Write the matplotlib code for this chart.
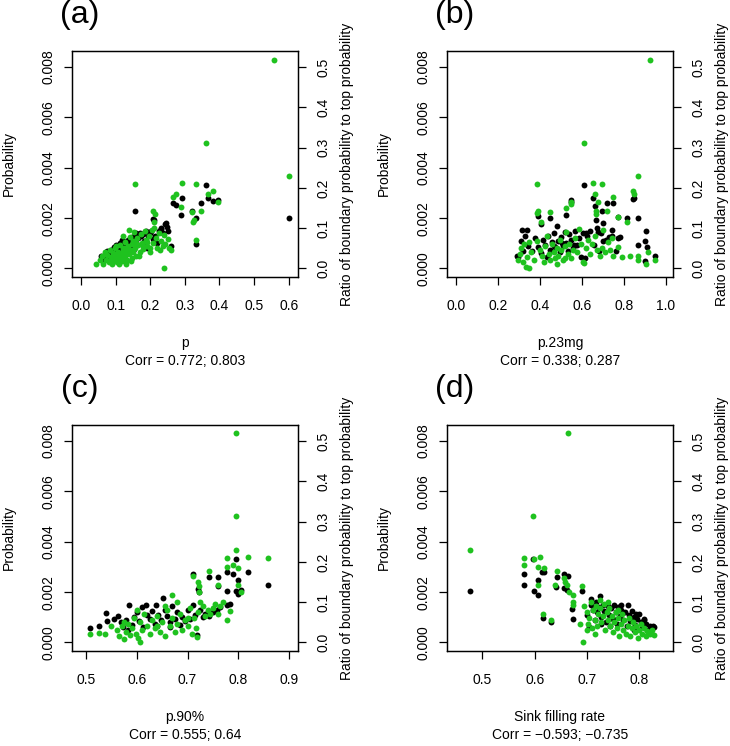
import matplotlib
matplotlib.use('Agg')
import matplotlib.pyplot as plt
import numpy as np

plt.rcParams['font.family'] = ['Liberation Sans', 'DejaVu Sans']
plt.rcParams['font.size'] = 10

# ---- data: black = probability (left axis), green = ratio (right axis) ----
# panel (a): p
a_black_x = [0.600, 0.360, 0.291, 0.266, 0.274, 0.347, 0.368, 0.380, 0.397, 0.320, 0.332, 0.332, 0.288, 0.156,
             0.209, 0.212, 0.245, 0.232, 0.260, 0.190,
             0.058, 0.064, 0.070, 0.075, 0.080, 0.084, 0.088, 0.092, 0.096, 0.100, 0.102, 0.106, 0.110, 0.112,
             0.116, 0.120, 0.122, 0.126, 0.130, 0.133, 0.136, 0.140, 0.143, 0.146, 0.150, 0.152, 0.156, 0.160,
             0.165, 0.170, 0.174, 0.178, 0.183, 0.188, 0.193, 0.198, 0.203, 0.208, 0.214, 0.220, 0.226, 0.230,
             0.236, 0.242, 0.248, 0.252, 0.118, 0.138, 0.160, 0.180]
a_black_y = [0.00201, 0.00333, 0.00278, 0.00260, 0.00251, 0.00260, 0.00278, 0.00267, 0.00270, 0.00229, 0.00202,
             0.00099, 0.00212, 0.00227, 0.00197, 0.00192, 0.00181, 0.00156, 0.00089, 0.00083,
             0.00050, 0.00038, 0.00055, 0.00068, 0.00045, 0.00062, 0.00075, 0.00052, 0.00085, 0.00092, 0.00070,
             0.00058, 0.00080, 0.00100, 0.00072, 0.00090, 0.00108, 0.00065, 0.00098, 0.00082, 0.00115, 0.00105,
             0.00088, 0.00125, 0.00118, 0.00078, 0.00135, 0.00100, 0.00120, 0.00142, 0.00128, 0.00138, 0.00110,
             0.00148, 0.00130, 0.00140, 0.00150, 0.00118, 0.00128, 0.00102, 0.00148, 0.00160, 0.00140, 0.00175,
             0.00165, 0.00150, 0.00112, 0.00095, 0.00140, 0.00092]
a_green_x = [0.558, 0.360, 0.600, 0.156, 0.291, 0.332, 0.266, 0.275, 0.366, 0.380, 0.397, 0.347, 0.322, 0.325,
             0.332, 0.289, 0.209, 0.215, 0.211, 0.239, 0.043, 0.326,
             0.055, 0.060, 0.065, 0.068, 0.072, 0.076, 0.080, 0.083, 0.086, 0.090, 0.092, 0.095, 0.098, 0.100,
             0.103, 0.106, 0.109, 0.112, 0.115, 0.118, 0.121, 0.124, 0.127, 0.130, 0.133, 0.136, 0.139, 0.142,
             0.145, 0.148, 0.151, 0.154, 0.157, 0.160, 0.163, 0.166, 0.170, 0.173, 0.176, 0.180, 0.184, 0.188,
             0.192, 0.196, 0.200, 0.204, 0.208, 0.212, 0.216, 0.220, 0.224, 0.228, 0.232, 0.236, 0.240, 0.244,
             0.250, 0.255, 0.260, 0.120, 0.140, 0.100, 0.130,
             0.085, 0.094, 0.104, 0.108, 0.114, 0.122, 0.128, 0.135, 0.144, 0.150, 0.158, 0.168, 0.178, 0.190,
             0.198, 0.110, 0.125, 0.146]
a_green_r = [0.518, 0.312, 0.230, 0.210, 0.212, 0.210, 0.178, 0.186, 0.186, 0.193, 0.164, 0.143, 0.140, 0.116,
             0.070, 0.153, 0.142, 0.136, 0.116, 0.002, 0.012, 0.120,
             0.020, 0.030, 0.012, 0.040, 0.022, 0.033, 0.015, 0.045, 0.028, 0.010, 0.038, 0.022, 0.050, 0.030,
             0.015, 0.042, 0.025, 0.058, 0.035, 0.018, 0.048, 0.028, 0.065, 0.040, 0.022, 0.055, 0.035, 0.078,
             0.045, 0.025, 0.068, 0.090, 0.050, 0.032, 0.075, 0.058, 0.040, 0.085, 0.062, 0.048, 0.092, 0.070,
             0.055, 0.080, 0.040, 0.095, 0.062, 0.100, 0.075, 0.050, 0.088, 0.045, 0.068, 0.055, 0.082, 0.060,
             0.072, 0.050, 0.046, 0.080, 0.095, 0.055, 0.010,
             0.020, 0.032, 0.025, 0.036, 0.028, 0.040, 0.030, 0.045, 0.018, 0.040, 0.062, 0.030, 0.055, 0.065,
             0.050, 0.012, 0.052, 0.060]

# panel (b): p.23mg
b_black_x = [0.610, 0.651, 0.662, 0.841, 0.846, 0.717, 0.748, 0.549, 0.546, 0.696, 0.390, 0.446, 0.525, 0.669,
             0.702, 0.772, 0.815, 0.868, 0.905, 0.868, 0.900, 0.910, 0.946, 0.900, 0.406, 0.314, 0.339, 0.298,
             0.290,
             0.310, 0.320, 0.330, 0.345, 0.360, 0.375, 0.390, 0.405, 0.415, 0.425, 0.432, 0.440, 0.450, 0.458,
             0.465, 0.472, 0.480, 0.488, 0.495, 0.502, 0.510, 0.518, 0.525, 0.532, 0.540, 0.548, 0.556, 0.565,
             0.575, 0.585, 0.595, 0.605, 0.615, 0.625, 0.640, 0.655, 0.670, 0.680, 0.690, 0.700, 0.712, 0.730,
             0.745, 0.760, 0.780, 0.465, 0.505, 0.560, 0.745, 0.772, 0.677, 0.618]
b_black_y = [0.00333, 0.00278, 0.00250, 0.00274, 0.00278, 0.00260, 0.00260, 0.00270, 0.00263, 0.00229, 0.00209,
             0.00202, 0.00212, 0.00192, 0.00181, 0.00205, 0.00202, 0.00202, 0.00149, 0.00093, 0.00110, 0.00086,
             0.00049, 0.00030, 0.00176, 0.00152, 0.00152, 0.00046, 0.00048,
             0.00110, 0.00070, 0.00130, 0.00090, 0.00068, 0.00120, 0.00085, 0.00060, 0.00115, 0.00095, 0.00045,
             0.00130, 0.00075, 0.00105, 0.00140, 0.00085, 0.00170, 0.00110, 0.00065, 0.00125, 0.00090, 0.00145,
             0.00100, 0.00070, 0.00135, 0.00115, 0.00080, 0.00150, 0.00095, 0.00120, 0.00045, 0.00140, 0.00040,
             0.00130, 0.00150, 0.00095, 0.00160, 0.00070, 0.00140, 0.00110, 0.00115, 0.00125, 0.00130, 0.00070,
             0.00125, 0.00090, 0.00100, 0.00095, 0.00152, 0.00119, 0.00145, 0.00139]
b_green_x = [0.925, 0.610, 0.868, 0.387, 0.651, 0.696, 0.841, 0.846, 0.664, 0.747, 0.390, 0.387, 0.406, 0.447,
             0.525, 0.546, 0.549, 0.717, 0.772, 0.815, 0.677, 0.667, 0.669,
             0.295, 0.305, 0.312, 0.318, 0.325, 0.334, 0.340, 0.348, 0.350, 0.358, 0.370, 0.385, 0.398, 0.410,
             0.418, 0.425, 0.435, 0.442, 0.450, 0.458, 0.465, 0.472, 0.480, 0.488, 0.495, 0.502, 0.510, 0.518,
             0.525, 0.532, 0.540, 0.548, 0.555, 0.565, 0.575, 0.585, 0.595, 0.605, 0.612, 0.620, 0.630, 0.640,
             0.650, 0.660, 0.672, 0.685, 0.693, 0.700, 0.710, 0.722, 0.735, 0.745, 0.748, 0.772, 0.790, 0.828,
             0.868, 0.868, 0.905, 0.946, 0.915, 0.480, 0.520]
b_green_r = [0.518, 0.312, 0.230, 0.210, 0.212, 0.210, 0.193, 0.186, 0.186, 0.178, 0.143, 0.138, 0.116, 0.140,
             0.149, 0.166, 0.160, 0.143, 0.127, 0.116, 0.164, 0.142, 0.136,
             0.020, 0.035, 0.050, 0.015, 0.060, 0.004, 0.028, 0.066, 0.000, 0.040, 0.022, 0.068, 0.045, 0.030,
             0.015, 0.055, 0.080, 0.035, 0.020, 0.060, 0.040, 0.025, 0.050, 0.030, 0.070, 0.045, 0.020, 0.055,
             0.090, 0.035, 0.060, 0.025, 0.045, 0.075, 0.040, 0.097, 0.060, 0.016, 0.014, 0.050, 0.070, 0.035,
             0.060, 0.080, 0.045, 0.030, 0.052, 0.095, 0.040, 0.065, 0.045, 0.076, 0.030, 0.054, 0.028, 0.030,
             0.030, 0.020, 0.012, 0.020, 0.040, 0.010, 0.025]

# panel (c): p.90%
c_black_x = [0.859, 0.820, 0.778, 0.795, 0.790, 0.800, 0.795, 0.800, 0.805, 0.778, 0.783, 0.743, 0.760, 0.760,
             0.710, 0.720, 0.722, 0.718, 0.508, 0.526, 0.539, 0.542, 0.651, 0.637, 0.618, 0.585,
             0.555, 0.562, 0.568, 0.572, 0.578, 0.582, 0.590, 0.595, 0.600, 0.605, 0.610, 0.612, 0.620, 0.625,
             0.630, 0.635, 0.642, 0.648, 0.655, 0.660, 0.665, 0.670, 0.675, 0.680, 0.685, 0.690, 0.695, 0.700,
             0.705, 0.710, 0.715, 0.725, 0.730, 0.735, 0.742, 0.750, 0.758, 0.765, 0.778, 0.640, 0.665]
c_black_y = [0.00229, 0.00280, 0.00280, 0.00332, 0.00270, 0.00250, 0.00203, 0.00193, 0.00207, 0.00204, 0.00151,
             0.00262, 0.00262, 0.00226, 0.00273, 0.00213, 0.00200, 0.00030, 0.00057, 0.00064, 0.00118, 0.00087,
             0.00176, 0.00150, 0.00150, 0.00147,
             0.00095, 0.00105, 0.00080, 0.00060, 0.00090, 0.00050, 0.00070, 0.00100, 0.00120, 0.00085, 0.00140,
             0.00060, 0.00110, 0.00095, 0.00125, 0.00075, 0.00110, 0.00090, 0.00130, 0.00105, 0.00080, 0.00145,
             0.00095, 0.00120, 0.00070, 0.00100, 0.00085, 0.00130, 0.00095, 0.00150, 0.00110, 0.00130, 0.00100,
             0.00115, 0.00105, 0.00120, 0.00130, 0.00140, 0.00150, 0.00065, 0.00060]
c_green_x = [0.795, 0.795, 0.796, 0.778, 0.778, 0.790, 0.800, 0.820, 0.859, 0.743, 0.710, 0.720, 0.722, 0.722,
             0.760, 0.800, 0.806, 0.778, 0.783, 0.670, 0.508, 0.525, 0.537, 0.607, 0.718,
             0.548, 0.560, 0.565, 0.570, 0.575, 0.578, 0.582, 0.586, 0.590, 0.594, 0.598, 0.602, 0.606, 0.610,
             0.615, 0.620, 0.625, 0.630, 0.635, 0.640, 0.645, 0.650, 0.655, 0.660, 0.665, 0.670, 0.675, 0.680,
             0.685, 0.690, 0.695, 0.700, 0.705, 0.708, 0.712, 0.716, 0.720, 0.725, 0.730, 0.735, 0.740, 0.745,
             0.750, 0.755, 0.760, 0.765, 0.770, 0.600, 0.640, 0.680, 0.700, 0.575, 0.655]
c_green_r = [0.520, 0.314, 0.230, 0.209, 0.187, 0.193, 0.185, 0.212, 0.209, 0.177, 0.165, 0.150, 0.140, 0.125,
             0.142, 0.142, 0.125, 0.055, 0.079, 0.117, 0.020, 0.023, 0.021, 0.000, 0.013,
             0.040, 0.030, 0.015, 0.040, 0.008, 0.025, 0.045, 0.018, 0.035, 0.060, 0.022, 0.012, 0.050, 0.030,
             0.070, 0.040, 0.020, 0.055, 0.035, 0.065, 0.025, 0.050, 0.015, 0.080, 0.040, 0.060, 0.025, 0.045,
             0.070, 0.030, 0.055, 0.040, 0.085, 0.020, 0.060, 0.035, 0.075, 0.100, 0.090, 0.065, 0.080, 0.070,
             0.085, 0.095, 0.070, 0.090, 0.100, 0.080, 0.040, 0.100, 0.060, 0.050, 0.090]

# panel (d): sink filling rate
d_black_x = [0.476, 0.579, 0.579, 0.597, 0.599, 0.607, 0.607, 0.614, 0.618, 0.615, 0.632, 0.640, 0.642, 0.657,
             0.663, 0.657, 0.661, 0.672, 0.673, 0.691, 0.726, 0.707, 0.778, 0.794, 0.810, 0.826,
             0.700, 0.705, 0.708, 0.712, 0.715, 0.718, 0.720, 0.724, 0.727, 0.730, 0.733, 0.736, 0.740, 0.743,
             0.746, 0.750, 0.752, 0.755, 0.758, 0.760, 0.763, 0.766, 0.770, 0.773, 0.776, 0.780, 0.783, 0.786,
             0.790, 0.793, 0.796, 0.800, 0.803, 0.806, 0.810, 0.813, 0.816, 0.820, 0.823, 0.828, 0.745, 0.728,
             0.790, 0.765]
d_black_y = [0.00204, 0.00270, 0.00230, 0.00332, 0.00204, 0.00190, 0.00250, 0.00280, 0.00280, 0.00098, 0.00083,
             0.00222, 0.00262, 0.00273, 0.00264, 0.00216, 0.00207, 0.00131, 0.00094, 0.00204, 0.00184, 0.00173,
             0.00147, 0.00114, 0.00094, 0.00064,
             0.00110, 0.00060, 0.00150, 0.00130, 0.00090, 0.00160, 0.00120, 0.00140, 0.00100, 0.00150, 0.00125,
             0.00080, 0.00145, 0.00110, 0.00135, 0.00095, 0.00150, 0.00120, 0.00075, 0.00140, 0.00105, 0.00130,
             0.00090, 0.00120, 0.00065, 0.00110, 0.00085, 0.00125, 0.00100, 0.00070, 0.00095, 0.00115, 0.00080,
             0.00060, 0.00090, 0.00075, 0.00050, 0.00065, 0.00045, 0.00060, 0.00065, 0.00075, 0.00050, 0.00150]
d_green_x = [0.663, 0.597, 0.476, 0.579, 0.579, 0.599, 0.610, 0.607, 0.618, 0.606, 0.642, 0.638, 0.657, 0.659,
             0.662, 0.615, 0.687, 0.632, 0.691, 0.693, 0.673, 0.673, 0.673, 0.666,
             0.695, 0.700, 0.702, 0.705, 0.708, 0.710, 0.712, 0.715, 0.718, 0.720, 0.722, 0.725, 0.728, 0.730,
             0.733, 0.735, 0.738, 0.740, 0.742, 0.745, 0.748, 0.750, 0.752, 0.755, 0.758, 0.760, 0.762, 0.765,
             0.768, 0.770, 0.772, 0.775, 0.778, 0.780, 0.783, 0.786, 0.789, 0.792, 0.795, 0.798, 0.800, 0.803,
             0.806, 0.810, 0.813, 0.816, 0.820, 0.825, 0.828, 0.715, 0.725, 0.740, 0.760, 0.700]
d_green_r = [0.520, 0.314, 0.230, 0.209, 0.193, 0.208, 0.211, 0.187, 0.185, 0.142, 0.177, 0.143, 0.160, 0.151,
             0.142, 0.070, 0.046, 0.055, 0.139, 0.000, 0.118, 0.100, 0.092, 0.125,
             0.090, 0.075, 0.045, 0.060, 0.100, 0.035, 0.080, 0.055, 0.090, 0.040, 0.070, 0.085, 0.050, 0.065,
             0.095, 0.030, 0.075, 0.055, 0.085, 0.040, 0.065, 0.025, 0.050, 0.075, 0.035, 0.060, 0.015, 0.045,
             0.070, 0.030, 0.055, 0.020, 0.040, 0.060, 0.015, 0.035, 0.050, 0.025, 0.040, 0.010, 0.030, 0.045,
             0.020, 0.035, 0.015, 0.028, 0.020, 0.030, 0.018, 0.020, 0.105, 0.100, 0.080, 0.030]

panels = [
    ('(a)', 'p', 'Corr = 0.772; 0.803', a_black_x, a_black_y, a_green_x, a_green_r,
     (-0.026, 0.627), [0.0, 0.1, 0.2, 0.3, 0.4, 0.5, 0.6]),
    ('(b)', 'p.23mg', 'Corr = 0.338; 0.287', b_black_x, b_black_y, b_green_x, b_green_r,
     (-0.042, 1.033), [0.0, 0.2, 0.4, 0.6, 0.8, 1.0]),
    ('(c)', 'p.90%', 'Corr = 0.555; 0.64', c_black_x, c_black_y, c_green_x, c_green_r,
     (0.472, 0.918), [0.5, 0.6, 0.7, 0.8, 0.9]),
    ('(d)', 'Sink filling rate', 'Corr = \u22120.593; \u22120.735', d_black_x, d_black_y, d_green_x, d_green_r,
     (0.432, 0.865), [0.5, 0.6, 0.7, 0.8]),
]

W, H = 730, 746
fig = plt.figure(figsize=(W / 100, H / 100), dpi=100)

green = '#1fc21f'
ylim = (-0.00034, 0.00864)
scale = 62.5  # ratio axis = probability axis * 62.5

# box corners in pixels (left, top)
boxes = [(72, 51), (447, 51), (72, 425), (447, 425)]
bw, bh = 226, 226

for (letter, xlab, corr, bx, by, gx, gr, xlim, xticks), (left, top) in zip(panels, boxes):
    ax = fig.add_axes([left / W, 1 - (top + bh) / H, bw / W, bh / H])
    ax.scatter(bx, by, s=18, color='black', linewidths=0, zorder=3)
    ax.set_xlim(xlim)
    ax.set_ylim(ylim)
    ax.set_xticks(xticks)
    ax.set_xticklabels(['%.1f' % t for t in xticks])
    yt = [0.0, 0.002, 0.004, 0.006, 0.008]
    ax.set_yticks(yt)
    ax.set_yticklabels(['%.3f' % t for t in yt], rotation=90, va='center')
    ax.tick_params(axis='x', direction='out', length=6, width=0.9, pad=10, labelsize=10)
    ax.tick_params(axis='y', direction='out', length=6, width=0.9, pad=6, labelsize=10)

    ax2 = ax.twinx()
    ax2.scatter(gx, gr, s=18, color=green, linewidths=0, zorder=3)
    ax2.set_ylim(ylim[0] * scale, ylim[1] * scale)
    rt = [0.0, 0.1, 0.2, 0.3, 0.4, 0.5]
    ax2.set_yticks(rt)
    ax2.set_yticklabels(['%.1f' % t for t in rt], rotation=90, va='center')
    ax2.tick_params(axis='y', direction='out', length=6, width=0.9, pad=7, labelsize=10)

    for a in (ax, ax2):
        for sp in a.spines.values():
            sp.set_linewidth(0.9)

    cy = 1 - (top + bh / 2) / H
    fig.text((left - 63) / W, cy, 'Probability', rotation=90, ha='center', va='center', fontsize=10)
    fig.text((left + bw + 49) / W, cy, 'Ratio of boundary probability to top probability',
             rotation=90, ha='center', va='center', fontsize=10)
    cx = (left + bw / 2) / W
    fig.text(cx, 1 - (top + 292) / H, xlab, ha='center', va='center', fontsize=10)
    fig.text(cx, 1 - (top + 310) / H, corr, ha='center', va='center', fontsize=10)
    fig.text((left + 8) / W, 1 - (top - 36) / H, letter, ha='center', va='center', fontsize=23)

fig.savefig('out.png', dpi=100)
